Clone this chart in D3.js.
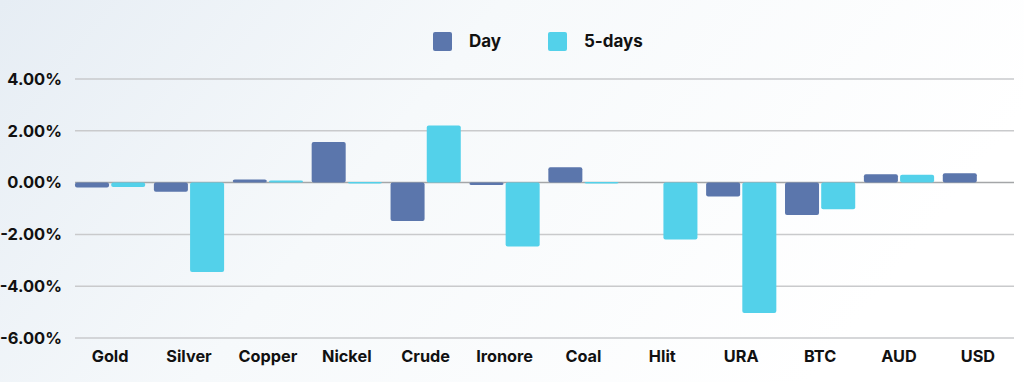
<!DOCTYPE html>
<html>
<head>
<meta charset="utf-8">
<script src="https://cdn.jsdelivr.net/npm/d3@7"></script>
<style>
  html, body { margin: 0; padding: 0; }
  svg { display: block; font-family: Inter, "Open Sans", sans-serif; }
</style>
</head>
<body>
<svg width="1024" height="382"></svg>
<script>
let categories = ["Gold", "Silver", "Copper", "Nickel", "Crude", "Ironore", "Coal", "Hlit", "URA", "BTC", "AUD", "USD"];
let dayValues = [-0.19, -0.35, 0.12, 1.57, -1.48, -0.09, 0.59, 0, -0.54, -1.25, 0.32, 0.36];
let fiveDayValues = [-0.17, -3.45, 0.08, 0.02, 2.2, -2.47, 0.02, -2.2, -5.03, -1.03, 0.3, 0];
let seriesNames = ["Day", "5-days"];
let seriesColors = ["#5b76ac", "#53d1ea"];
let yTicks = [4, 2, 0, -2, -4, -6];

let svg = d3.select("svg"),
    width = +svg.attr("width"),
    height = +svg.attr("height");

// background wash
let defs = svg.append("defs");
let grad = defs.append("linearGradient")
    .attr("id", "bg")
    .attr("x1", "0%").attr("y1", "0%")
    .attr("x2", "100%").attr("y2", "30%");
grad.append("stop").attr("offset", "0%").attr("stop-color", "#e6edf4");
grad.append("stop").attr("offset", "45%").attr("stop-color", "#f6f9fb");
grad.append("stop").attr("offset", "100%").attr("stop-color", "#ffffff");
svg.append("rect").attr("width", width).attr("height", height).attr("fill", "url(#bg)");

let margin = { left: 75, right: 10, top: 79, bottom: 44 };

let x = d3.scaleBand()
    .domain(categories)
    .range([margin.left, 1013])
    .paddingInner(0.11)
    .paddingOuter(0)
    .align(0);

let x1 = d3.scaleBand()
    .domain(seriesNames)
    .range([0, x.bandwidth()])
    .paddingInner(0.06);

let y = d3.scaleLinear()
    .domain([-6, 4])
    .range([338, 79]);

let pct = d => d3.format(".2f")(d).replace("\u2212", "-") + "%";

// gridlines
svg.append("g")
    .selectAll("line")
    .data(yTicks)
    .enter().append("line")
        .attr("x1", margin.left)
        .attr("x2", 1014)
        .attr("y1", d => y(d))
        .attr("y2", d => y(d))
        .attr("stroke", d => d === 0 ? "#a4a6a8" : "#c9cacc")
        .attr("stroke-width", 1.5);

// y labels
svg.append("g")
    .selectAll("text")
    .data(yTicks)
    .enter().append("text")
        .attr("x", 62)
        .attr("y", d => y(d))
        .attr("dy", "0.35em")
        .attr("text-anchor", "end")
        .attr("font-size", 16.5)
        .attr("font-weight", 700)
        .attr("fill", "#111")
        .text(pct);

// bars
let rows = categories.map((c, i) => ({ cat: c, vals: [dayValues[i], fiveDayValues[i]] }));

let groups = svg.append("g")
    .selectAll("g")
    .data(rows)
    .enter().append("g")
        .attr("transform", d => "translate(" + x(d.cat) + ",0)");

groups.selectAll("rect")
    .data(d => d.vals.map((v, j) => ({ name: seriesNames[j], v: v, j: j })))
    .enter().filter(d => d.v !== 0).append("rect")
        .attr("x", d => x1(d.name))
        .attr("width", x1.bandwidth())
        .attr("y", d => Math.min(y(d.v), y(0)))
        .attr("height", d => Math.max(1.5, Math.abs(y(d.v) - y(0))))
        .attr("rx", 2)
        .attr("fill", d => seriesColors[d.j]);

// x labels
svg.append("g")
    .selectAll("text")
    .data(categories)
    .enter().append("text")
        .attr("x", d => x(d) + x.bandwidth() / 2)
        .attr("y", 356)
        .attr("dy", "0.35em")
        .attr("text-anchor", "middle")
        .attr("font-size", 16.3)
        .attr("font-weight", 700)
        .attr("fill", "#111")
        .text(d => d);

// legend
let legendX = [433, 548];
let legend = svg.append("g")
    .selectAll("g")
    .data(seriesNames)
    .enter().append("g")
        .attr("transform", (d, i) => "translate(" + legendX[i] + ",32)");

legend.append("rect")
    .attr("width", 19)
    .attr("height", 19)
    .attr("rx", 2)
    .attr("fill", (d, i) => seriesColors[i]);

legend.append("text")
    .attr("x", 36)
    .attr("y", 9.5)
    .attr("dy", "0.35em")
    .attr("font-size", 17)
    .attr("font-weight", 700)
    .attr("fill", "#111")
    .text(d => d);
</script>
</body>
</html>
